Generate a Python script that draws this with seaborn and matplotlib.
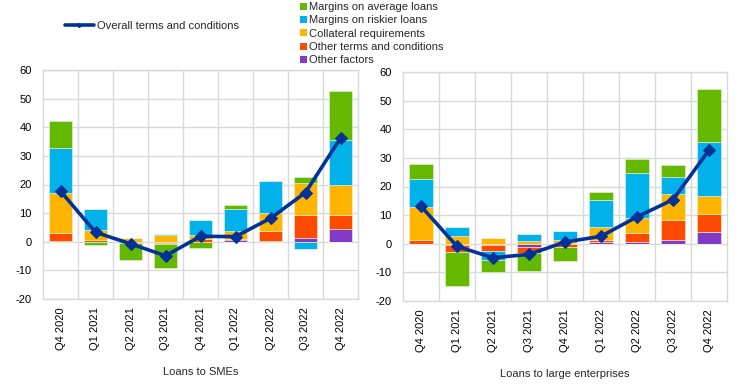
import numpy as np
import pandas as pd
import matplotlib
matplotlib.use("Agg")
import matplotlib.pyplot as plt
from matplotlib.lines import Line2D
from matplotlib.patches import Patch
from matplotlib.ticker import FixedLocator
import seaborn as sns

quarters = ["Q4 2020", "Q1 2021", "Q2 2021", "Q3 2021", "Q4 2021",
            "Q1 2022", "Q2 2022", "Q3 2022", "Q4 2022"]

series_names = ["Other factors", "Other terms and conditions", "Collateral requirements",
                "Margins on riskier loans", "Margins on average loans"]
series_colors = ["#8139c6", "#ff4b00", "#ffb400", "#00b1ea", "#65b800"]

# Loans to SMEs
sme_other_factors = [0.2, 0.0, 0.0, -0.3, 0.0, 0.5, 0.3, 1.4, 4.4]
sme_other_terms = [2.7, 0.5, 0.0, -0.5, 1.0, 0.5, 3.6, 8.1, 5.1]
sme_collateral = [14.3, 3.7, 1.4, 2.3, 1.4, 2.8, 6.3, 11.1, 10.4]
sme_riskier = [15.7, 7.2, -0.5, 0.5, 5.3, 7.5, 10.9, -2.4, 15.8]
sme_average = [9.2, -1.2, -5.8, -8.4, -2.1, 1.4, 0.0, 2.0, 17.0]
sme_overall = [17.7, 3.3, -0.7, -4.9, 1.9, 1.8, 8.2, 17.2, 36.2]

# Loans to large enterprises
large_other_factors = [0.0, -0.4, -0.4, -1.0, 0.2, 0.5, 0.7, 1.4, 4.2]
large_other_terms = [1.2, -2.6, -2.3, -2.3, -1.1, 0.7, 3.1, 6.9, 6.2]
large_collateral = [11.6, 2.6, 1.9, 0.9, 1.2, 4.5, 5.1, 9.1, 6.4]
large_riskier = [9.8, 3.4, -3.1, 2.4, 3.2, 9.5, 15.7, 6.0, 18.6]
large_average = [5.2, -11.6, -4.1, -6.3, -4.8, 2.9, 5.0, 4.0, 18.6]
large_overall = [13.1, -0.9, -4.9, -3.7, 0.6, 2.6, 9.4, 15.4, 32.7]

panels = [
    ("Loans to SMEs", [sme_other_factors, sme_other_terms, sme_collateral, sme_riskier, sme_average], sme_overall),
    ("Loans to large enterprises", [large_other_factors, large_other_terms, large_collateral, large_riskier, large_average], large_overall),
]

sns.set_style("white")
plt.rcParams["font.family"] = ["Liberation Sans", "DejaVu Sans"]
plt.rcParams["font.size"] = 8
plt.rcParams["axes.unicode_minus"] = False

fig = plt.figure(figsize=(7.44, 3.84), dpi=100)
ax_rects = [
    [43 / 744, 1 - 299 / 384, (358 - 43) / 744, (299 - 70) / 384],
    [403 / 744, 1 - 301 / 384, (727 - 403) / 744, (301 - 72) / 384],
]
grid_c = "#d9d9d9"
line_c = "#003299"

for rect, (title, series, overall) in zip(ax_rects, panels):
    ax = fig.add_axes(rect)
    x = np.arange(len(quarters))
    pos_b = np.zeros(len(quarters))
    neg_b = np.zeros(len(quarters))
    for vals, col in zip(series, series_colors):
        v = np.array(vals, dtype=float)
        pos = np.where(v > 0, v, 0)
        neg = np.where(v < 0, v, 0)
        ax.bar(x, pos, bottom=pos_b, width=0.66, color=col, edgecolor="#e8f4e0",
               linewidth=0.4, zorder=2)
        ax.bar(x, neg, bottom=neg_b, width=0.66, color=col, edgecolor="#e8f4e0",
               linewidth=0.4, zorder=2)
        pos_b += pos
        neg_b += neg
    df = pd.DataFrame({"x": x, "y": overall})
    sns.lineplot(data=df, x="x", y="y", ax=ax, color=line_c, linewidth=2.6,
                 marker="D", markersize=6, markeredgecolor=line_c, sort=False, zorder=3)
    ax.set_xlim(-0.5, len(quarters) - 0.5)
    ax.set_ylim(-20, 60)
    ax.set_yticks(np.arange(-20, 61, 10))
    ax.set_xticks(x)
    ax.set_xticklabels(quarters, rotation=90)
    ax.xaxis.set_minor_locator(FixedLocator(np.arange(0.5, len(quarters) - 0.5, 1)))
    ax.grid(axis="y", which="major", color=grid_c, linewidth=1, zorder=0)
    ax.grid(axis="x", which="minor", color=grid_c, linewidth=1, zorder=0)
    ax.grid(axis="x", which="major", visible=False)
    ax.set_axisbelow(True)
    for sp in ax.spines.values():
        sp.set_color(grid_c)
        sp.set_linewidth(1)
    ax.tick_params(axis="both", which="both", length=0, labelsize=8, colors="black")
    ax.tick_params(axis="y", pad=8)
    ax.tick_params(axis="x", pad=6)
    ax.set_xlabel(title, fontsize=8, labelpad=12)
    ax.set_ylabel("")

line_handle = Line2D([0], [0], color=line_c, linewidth=2.6, marker="D", markersize=2)
fig.legend(handles=[line_handle], labels=["Overall terms and conditions"],
           loc="center left", bbox_to_anchor=(65 / 744, 1 - 26 / 384), frameon=False,
           handlelength=2.6, handletextpad=0.3, borderpad=0, borderaxespad=0, fontsize=8)

patch_handles = [Patch(facecolor=c, edgecolor="none") for c in series_colors[::-1]]
fig.legend(handles=patch_handles, labels=series_names[::-1],
           loc="upper left", bbox_to_anchor=(300 / 744, 1 - 2 / 384), frameon=False,
           handlelength=0.6, handleheight=0.6, handletextpad=0.25, labelspacing=0.3,
           borderpad=0, borderaxespad=0, fontsize=8)

fig.savefig("out.png", dpi=100)
